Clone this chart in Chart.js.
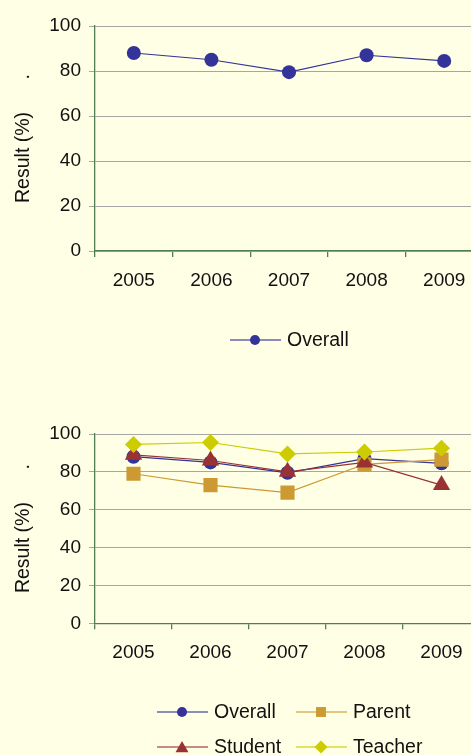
<!DOCTYPE html>
<html>
<head>
<meta charset="utf-8">
<script src="https://cdn.jsdelivr.net/npm/chart.js@4/dist/chart.umd.min.js"></script>
<style>
  html, body { margin: 0; padding: 0; background: #FFFFE6; width: 471px; height: 755px; overflow: hidden; }
  canvas { position: absolute; left: 0; }
  #c1 { top: 0; }
  #c2 { top: 400px; }
</style>
</head>
<body>
<canvas id="c1" width="490" height="370"></canvas>
<canvas id="c2" width="490" height="355"></canvas>
<script>
// Survey results by year
const years = ['2005', '2006', '2007', '2008', '2009'];
const overall = [88, 85, 79.5, 87, 84.5];
const parent  = [79, 73, 69, 84, 86.5];
const student = [89, 86, 80, 85, 73];
const teacher = [94.5, 95.5, 89.5, 90.5, 92.5];
const yTicks  = [0, 20, 40, 60, 80, 100];

const FONT = 'Liberation Sans, Arial, sans-serif';
const AXIS_GREEN = '#4F7F4F';
const GRID_GREY = '#A6A6A6';

const styles = {
  Overall: { color: '#333399', point: 'circle',   radius: 7,  legendR: 5 },
  Parent:  { color: '#CC9933', point: 'rect',     radius: 10, legendR: 7 },
  Student: { color: '#993333', point: 'triangle', radius: 10, legendR: 7.5 },
  Teacher: { color: '#CCCC00', point: 'rectRot',  radius: 8.5, legendR: 6.5 }
};

function makeDataset(label, values, order) {
  const s = styles[label];
  return {
    label, data: values, order,
    borderColor: s.color, backgroundColor: s.color,
    borderWidth: 1.2,
    pointStyle: s.point, pointRadius: s.radius,
    pointBackgroundColor: s.color, pointBorderColor: s.color, pointBorderWidth: 0,
    tension: 0
  };
}

// Legend entries: line with a marker in the middle, then the label
function drawMarker(ctx, style, x, y, r) {
  ctx.beginPath();
  if (style === 'circle') {
    ctx.arc(x, y, r, 0, Math.PI * 2);
  } else if (style === 'rect') {
    const h = r * Math.SQRT1_2;
    ctx.rect(x - h, y - h, 2 * h, 2 * h);
  } else if (style === 'triangle') {
    ctx.moveTo(x, y - r);
    ctx.lineTo(x + r * Math.sin(2 * Math.PI / 3), y - r * Math.cos(2 * Math.PI / 3));
    ctx.lineTo(x + r * Math.sin(4 * Math.PI / 3), y - r * Math.cos(4 * Math.PI / 3));
    ctx.closePath();
  } else if (style === 'rectRot') {
    ctx.moveTo(x - r, y); ctx.lineTo(x, y - r); ctx.lineTo(x + r, y); ctx.lineTo(x, y + r);
    ctx.closePath();
  }
  ctx.fill();
}

const lineLegend = {
  id: 'lineLegend',
  afterDraw(chart, args, opts) {
    const ctx = chart.ctx;
    ctx.save();
    chart.data.datasets.forEach((ds, i) => {
      const pos = opts.positions[i];
      const s = styles[ds.label];
      const x = pos[0], y = pos[1];
      ctx.strokeStyle = s.color;
      ctx.globalAlpha = 0.75;
      ctx.lineWidth = 1.5;
      ctx.beginPath();
      ctx.moveTo(x, y); ctx.lineTo(x + 51, y);
      ctx.stroke();
      ctx.globalAlpha = 1;
      ctx.fillStyle = s.color;
      const mx = x + 25;
      const my = s.point === 'triangle' ? y + 1.5 : y;
      drawMarker(ctx, s.point, mx, my, s.legendR);
      ctx.fillStyle = '#111';
      ctx.font = '19.5px ' + FONT;
      ctx.textBaseline = 'middle';
      ctx.textAlign = 'left';
      ctx.fillText(ds.label, x + 57, y + 1);
    });
    ctx.restore();
  }
};

function makeOptions(padTop, padBottom, positions) {
  return {
    responsive: false,
    animation: false,
    devicePixelRatio: 1,
    layout: { padding: { top: padTop, left: 0, right: 6, bottom: padBottom } },
    plugins: {
      legend: { display: false },
      tooltip: { enabled: false },
      lineLegend: { positions }
    },
    scales: {
      x: {
        offset: true,
        grid: { display: true, offset: true, drawOnChartArea: false, drawTicks: true, tickLength: 6, color: AXIS_GREEN, lineWidth: 1.3 },
        border: { display: true, color: AXIS_GREEN, width: 1.3 },
        ticks: { color: '#111', font: { family: FONT, size: 19 }, padding: 12, maxRotation: 0 },
        afterFit(scale) { scale.height = 40; }
      },
      y: {
        min: 0, max: 100,
        afterBuildTicks(scale) { scale.ticks = yTicks.map(v => ({ value: v })); },
        grid: { color: GRID_GREY, lineWidth: 1, drawTicks: true, tickLength: 6 },
        border: { display: true, color: AXIS_GREEN, width: 1.3 },
        ticks: { color: '#111', font: { family: FONT, size: 19 }, padding: 8 },
        title: {
          display: true,
          text: 'Result (%)      .',
          color: '#111',
          font: { family: FONT, size: 19.5 },
          padding: { top: 12, bottom: 0 }
        },
        afterFit(scale) { scale.width = 95; }
      }
    }
  };
}

new Chart(document.getElementById('c1'), {
  type: 'line',
  data: { labels: years, datasets: [makeDataset('Overall', overall, 1)] },
  options: makeOptions(26, 79, [[230, 340]]),
  plugins: [lineLegend]
});

new Chart(document.getElementById('c2'), {
  type: 'line',
  data: {
    labels: years,
    datasets: [
      makeDataset('Overall', overall, 4),
      makeDataset('Parent', parent, 3),
      makeDataset('Student', student, 2),
      makeDataset('Teacher', teacher, 1)
    ]
  },
  options: makeOptions(34, 91.7, [[157, 312], [296, 312], [157, 347], [296, 347]]),
  plugins: [lineLegend]
});
</script>
</body>
</html>
